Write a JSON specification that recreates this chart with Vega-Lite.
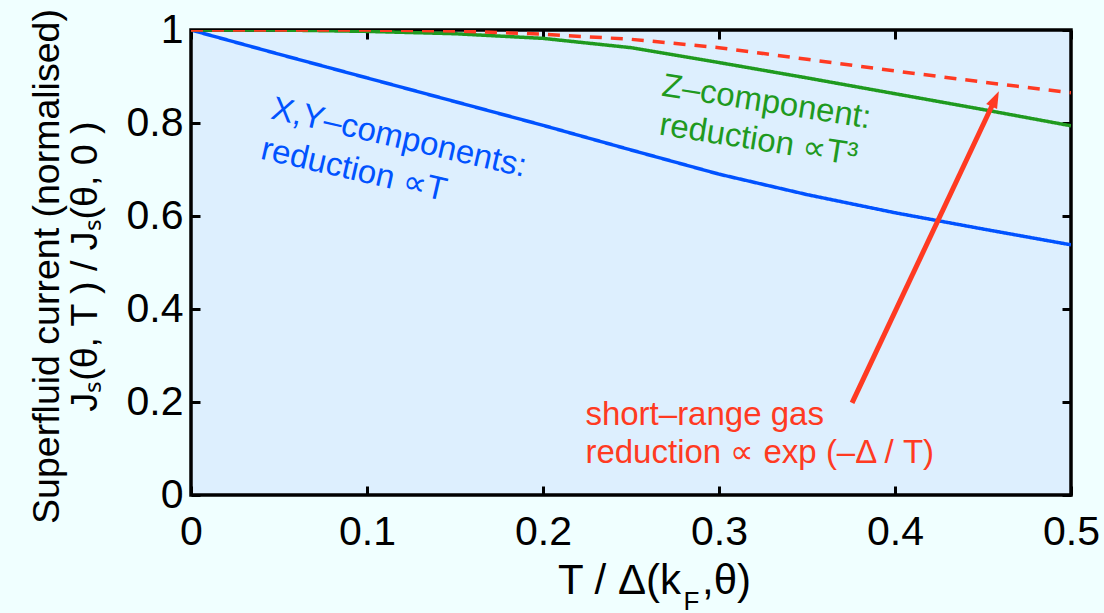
{
  "$schema": "https://vega.github.io/schema/vega-lite/v6.json",
  "autosize": {"type": "none"},
  "width": 880,
  "height": 465,
  "padding": {"left": 191, "top": 30, "right": 33, "bottom": 118},
  "background": "#f0ffff",
  "config": {
    "view": {"fill": "#ddeffe", "stroke": "#000000", "strokeWidth": 3.5},
    "font": "Liberation Sans",
    "axis": {
      "domain": false,
      "grid": false,
      "ticks": true,
      "tickColor": "#000000",
      "tickWidth": 3,
      "tickSize": -9,
      "labelColor": "#000000",
      "labelFont": "Liberation Sans",
      "titleFont": "Liberation Sans",
      "titleColor": "#000000",
      "titleFontWeight": "normal"
    }
  },
  "datasets": {
    "curves": [
      {"T": 0.0, "J": 1.0, "series": "a_xy"},
      {"T": 0.05, "J": 0.948, "series": "a_xy"},
      {"T": 0.1, "J": 0.897, "series": "a_xy"},
      {"T": 0.15, "J": 0.846, "series": "a_xy"},
      {"T": 0.2, "J": 0.795, "series": "a_xy"},
      {"T": 0.25, "J": 0.742, "series": "a_xy"},
      {"T": 0.3, "J": 0.69, "series": "a_xy"},
      {"T": 0.35, "J": 0.646, "series": "a_xy"},
      {"T": 0.4, "J": 0.607, "series": "a_xy"},
      {"T": 0.45, "J": 0.572, "series": "a_xy"},
      {"T": 0.5, "J": 0.538, "series": "a_xy"},
      {"T": 0.0, "J": 1.0, "series": "b_z"},
      {"T": 0.05, "J": 1.0, "series": "b_z"},
      {"T": 0.1, "J": 0.997, "series": "b_z"},
      {"T": 0.15, "J": 0.992, "series": "b_z"},
      {"T": 0.2, "J": 0.982, "series": "b_z"},
      {"T": 0.25, "J": 0.962, "series": "b_z"},
      {"T": 0.3, "J": 0.93, "series": "b_z"},
      {"T": 0.35, "J": 0.897, "series": "b_z"},
      {"T": 0.4, "J": 0.863, "series": "b_z"},
      {"T": 0.45, "J": 0.829, "series": "b_z"},
      {"T": 0.5, "J": 0.794, "series": "b_z"},
      {"T": 0.0, "J": 1.0, "series": "c_gas"},
      {"T": 0.05, "J": 1.0, "series": "c_gas"},
      {"T": 0.1, "J": 1.0, "series": "c_gas"},
      {"T": 0.15, "J": 0.998, "series": "c_gas"},
      {"T": 0.2, "J": 0.991, "series": "c_gas"},
      {"T": 0.25, "J": 0.98, "series": "c_gas"},
      {"T": 0.3, "J": 0.962, "series": "c_gas"},
      {"T": 0.35, "J": 0.937, "series": "c_gas"},
      {"T": 0.4, "J": 0.912, "series": "c_gas"},
      {"T": 0.45, "J": 0.888, "series": "c_gas"},
      {"T": 0.5, "J": 0.865, "series": "c_gas"}
    ],
    "blueNotes": [
      {"T": 0.1182, "J": 0.768, "label": "X,Y–components:"},
      {"T": 0.0926, "J": 0.699, "label": "reduction ∝T"}
    ],
    "greenNotes": [
      {"T": 0.327, "J": 0.845, "label": "Z–component:"},
      {"T": 0.3225, "J": 0.763, "label": "reduction ∝T³"}
    ],
    "redNotes": [
      {"T": 0.2241, "J": 0.1505, "label": "short–range gas"},
      {"T": 0.2241, "J": 0.0688, "label": "reduction ∝ exp (–Δ / T)"}
    ],
    "arrow": [
      {"T": 0.3756, "J": 0.198, "T2": 0.4566, "J2": 0.849}
    ],
    "subscript": [
      {"T": 0.2844, "J": -0.247, "label": "F"}
    ]
  },
  "layer": [
    {
      "data": {"name": "curves"},
      "mark": {"type": "line", "strokeWidth": 3.5, "clip": true},
      "encoding": {
        "x": {
          "field": "T", "type": "quantitative",
          "scale": {"domain": [0, 0.5], "nice": false, "zero": false},
          "axis": {
            "orient": "bottom",
            "values": [0, 0.1, 0.2, 0.3, 0.4, 0.5],
            "format": "~g",
            "labelFontSize": 41,
            "labelPadding": 26,
            "labelFlush": false,
            "labelOverlap": false,
            "title": "T / Δ(k\u2002,θ)",
            "titleFontSize": 42,
            "titleAnchor": "start",
            "titleAlign": "center",
            "titleBaseline": "alphabetic",
            "titleX": 463,
            "titleY": 98
          }
        },
        "y": {
          "field": "J", "type": "quantitative",
          "scale": {"domain": [0, 1], "nice": false, "zero": false},
          "axis": {
            "orient": "left",
            "values": [0, 0.2, 0.4, 0.6, 0.8, 1],
            "format": "~g",
            "labelFontSize": 41,
            "labelPadding": 17,
            "labelFlush": false,
            "labelOverlap": false,
            "title": ["Superfluid current (normalised)", "Jₛ(θ, T ) / Jₛ(θ, 0 )\u00a0\u00a0\u00a0\u00a0\u00a0\u00a0"],
            "titleFontSize": 37.5,
            "titleLineHeight": 38,
            "titleAngle": -90,
            "titleAlign": "center",
            "titleBaseline": "middle",
            "titleAnchor": "start",
            "titleX": -144,
            "titleY": 236
          }
        },
        "color": {
          "field": "series", "type": "nominal",
          "scale": {"domain": ["a_xy", "b_z", "c_gas"], "range": ["#0052ff", "#1f9a1f", "#ff3a22"]},
          "legend": null
        },
        "strokeDash": {
          "field": "series", "type": "nominal",
          "scale": {"domain": ["a_xy", "b_z", "c_gas"], "range": [[1, 0], [1, 0], [12, 9]]},
          "legend": null
        }
      }
    },
    {
      "data": {"name": "arrow"},
      "mark": {"type": "rule", "color": "#ff3a22", "strokeWidth": 5},
      "encoding": {
        "x": {"field": "T", "type": "quantitative",
          "axis": {"orient": "top", "values": [0, 0.1, 0.2, 0.3, 0.4, 0.5], "labels": false, "title": null}},
        "y": {"field": "J", "type": "quantitative",
          "axis": {"orient": "right", "values": [0, 0.2, 0.4, 0.6, 0.8, 1], "labels": false, "title": null}},
        "x2": {"field": "T2"},
        "y2": {"field": "J2"}
      }
    },
    {
      "data": {"name": "arrow"},
      "mark": {"type": "point", "shape": "M0,-1L0.6,0.7L-0.6,0.7Z", "filled": true, "color": "#ff3a22", "opacity": 1, "size": 400, "angle": 25.2},
      "encoding": {
        "x": {"field": "T2", "type": "quantitative", "axis": null},
        "y": {"field": "J2", "type": "quantitative", "axis": null}
      }
    },
    {
      "data": {"name": "blueNotes"},
      "mark": {"type": "text", "color": "#0052ff", "fontSize": 33, "angle": 13, "align": "center", "baseline": "middle"},
      "encoding": {
        "x": {"field": "T", "type": "quantitative", "axis": null},
        "y": {"field": "J", "type": "quantitative", "axis": null},
        "text": {"field": "label"}
      }
    },
    {
      "data": {"name": "greenNotes"},
      "mark": {"type": "text", "color": "#1f9a1f", "fontSize": 33, "angle": 9, "align": "center", "baseline": "middle"},
      "encoding": {
        "x": {"field": "T", "type": "quantitative", "axis": null},
        "y": {"field": "J", "type": "quantitative", "axis": null},
        "text": {"field": "label"}
      }
    },
    {
      "data": {"name": "redNotes"},
      "mark": {"type": "text", "color": "#ff3a22", "fontSize": 33, "align": "left", "baseline": "alphabetic"},
      "encoding": {
        "x": {"field": "T", "type": "quantitative", "axis": null},
        "y": {"field": "J", "type": "quantitative", "axis": null},
        "text": {"field": "label"}
      }
    },
    {
      "data": {"name": "subscript"},
      "mark": {"type": "text", "color": "#000000", "fontSize": 26, "align": "center", "baseline": "alphabetic"},
      "encoding": {
        "x": {"field": "T", "type": "quantitative", "axis": null},
        "y": {"field": "J", "type": "quantitative", "axis": null},
        "text": {"field": "label"}
      }
    }
  ],
  "resolve": {"axis": {"x": "independent", "y": "independent"}}
}
